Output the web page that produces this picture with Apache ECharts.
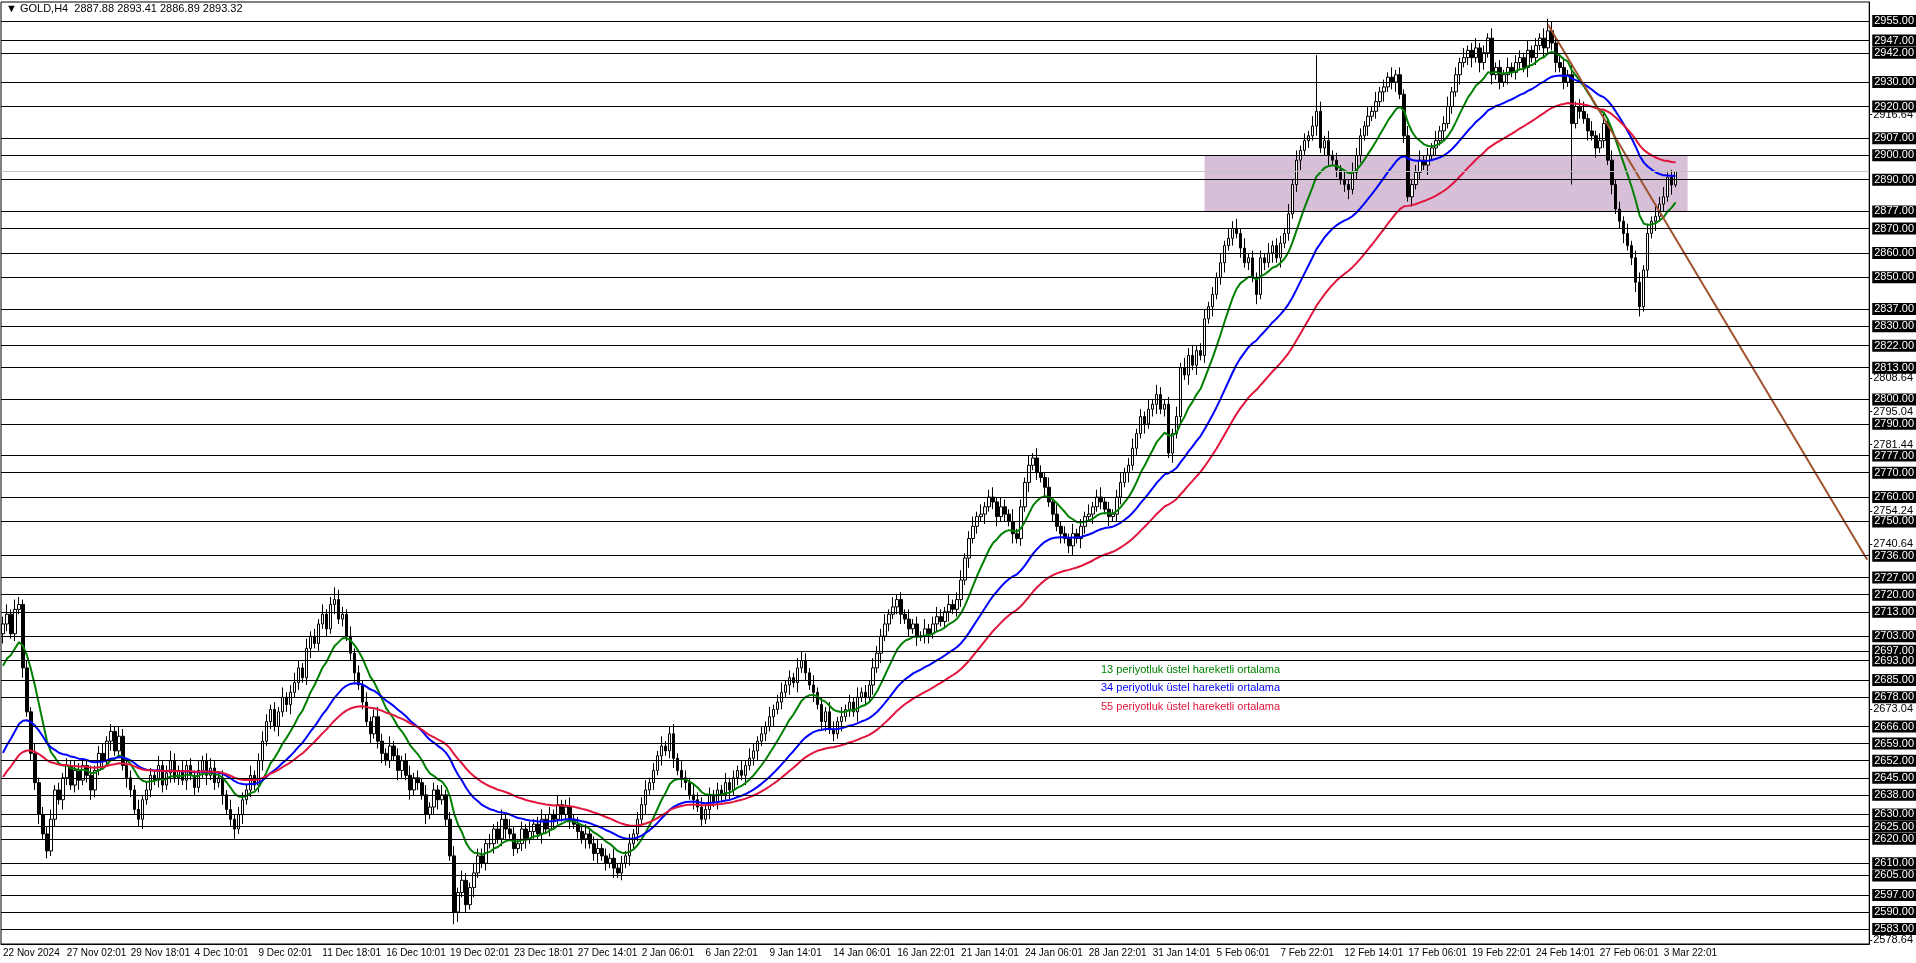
<!DOCTYPE html>
<html><head><meta charset="utf-8">
<script src="https://cdn.jsdelivr.net/npm/echarts@6/dist/echarts.min.js"></script>
<style>html,body{margin:0;padding:0;background:#fff}#c{width:1916px;height:963px}</style>
</head><body><div id="c"></div>
<script>
const closes = [
2708,2712,2704,2714,2716,2690,2672,2655,2643,2630,2622,2615,2628,2640,2636,2645,2650,2642,2648,2644,
2650,2646,2640,2648,2655,2652,2660,2664,2656,2662,2650,2645,2640,2632,2628,2636,2640,2646,2644,2650,
2642,2647,2652,2645,2648,2644,2650,2646,2641,2648,2652,2646,2649,2643,2645,2638,2632,2628,2624,2630,
2636,2640,2646,2642,2652,2660,2668,2673,2666,2672,2678,2675,2680,2684,2690,2686,2698,2703,2700,2708,
2712,2706,2716,2718,2710,2712,2703,2696,2688,2683,2676,2668,2663,2670,2660,2655,2652,2658,2654,2648,
2652,2646,2640,2645,2643,2638,2630,2633,2640,2636,2638,2628,2613,2590,2598,2603,2593,2600,2606,2613,
2610,2618,2618,2624,2620,2628,2624,2622,2616,2618,2624,2620,2623,2626,2622,2628,2624,2630,2628,2634,
2630,2633,2628,2626,2623,2620,2622,2618,2614,2616,2613,2610,2612,2608,2606,2610,2613,2618,2622,2628,
2634,2640,2643,2648,2654,2658,2656,2663,2653,2648,2645,2643,2638,2636,2633,2628,2632,2638,2635,2640,
2638,2643,2640,2645,2648,2646,2650,2653,2656,2660,2663,2666,2670,2673,2676,2680,2683,2686,2684,2690,
2693,2688,2683,2680,2675,2668,2672,2665,2663,2668,2670,2673,2676,2672,2678,2680,2678,2683,2690,2696,
2703,2708,2712,2715,2718,2712,2710,2706,2708,2703,2703,2706,2704,2708,2711,2709,2713,2716,2714,2718,
2726,2735,2743,2748,2752,2753,2756,2760,2758,2752,2756,2753,2750,2745,2743,2756,2766,2773,2776,2770,
2768,2764,2758,2753,2748,2745,2743,2740,2745,2743,2748,2752,2753,2756,2760,2758,2755,2752,2753,2760,
2766,2770,2773,2780,2786,2793,2790,2796,2798,2802,2796,2798,2778,2786,2793,2813,2810,2818,2814,2820,
2818,2833,2838,2843,2850,2856,2863,2866,2870,2868,2862,2856,2858,2850,2843,2858,2856,2860,2863,2858,
2864,2868,2876,2888,2898,2902,2906,2908,2912,2918,2903,2906,2900,2898,2894,2890,2888,2886,2893,2900,
2908,2912,2916,2918,2922,2926,2928,2932,2930,2933,2925,2908,2883,2888,2893,2898,2896,2900,2903,2906,
2910,2913,2920,2926,2933,2938,2940,2943,2940,2944,2938,2942,2948,2933,2936,2930,2933,2936,2934,2938,
2940,2936,2943,2940,2945,2948,2944,2951,2946,2938,2936,2930,2933,2913,2920,2918,2915,2910,2908,2903,
2906,2913,2898,2888,2878,2873,2868,2863,2858,2848,2838,2853,2868,2873,2875,2880,2883,2891,2887.88,2893.32];
const firstOpen = 2704;
const upperWicks = ["34243232423342323243","32423423243232423324","23432423242343232423","32423432324234324232",
"42354324232423432423","23423242324234243243","32423424323242342324","23423242342324232423","34232423424324342323",
"24232424323242342324","43242324324232423243","34242324232423432423","42342423424325232424","32424232423242342323",
"42342324243232424342","34232424342423232423","324242324n4242324243","32424232423242342324","23423242342324232423",
"32423245423424234242","34242324234242434230"];
const lowerWicks = ["43232423342323243234","23432324232432342323","32423242323423242342","42323423242342323423",
"23242323423242342324","32423242342325423242","23242342323423242342","32423242342324232423","24232423424324232423",
"32423242342324232424","23242342324232423242","42323423242342323423","32423242342324232423","24232423424324232423",
"32423242342324232424","23242342324232423242","42323423242342323423","32423242342324232423","24232423424324232423",
"3242324234232p232424","23242342344232423241"];
const dateLabels = ["22 Nov 2024","27 Nov 02:01","29 Nov 18:01","4 Dec 10:01","9 Dec 02:01","11 Dec 18:01","16 Dec 10:01",
"19 Dec 02:01","23 Dec 18:01","27 Dec 14:01","2 Jan 06:01","6 Jan 22:01","9 Jan 14:01","14 Jan 06:01","16 Jan 22:01",
"21 Jan 14:01","24 Jan 06:01","28 Jan 22:01","31 Jan 14:01","5 Feb 06:01","7 Feb 22:01","12 Feb 14:01","17 Feb 06:01",
"19 Feb 22:01","24 Feb 14:01","27 Feb 06:01","3 Mar 22:01"];
const levels = [2955,2947,2942,2930,2920,2907,2900,2890,2877,2870,2860,2850,2837,2830,2822,2813,2800,2790,2777,2770,
2760,2750,2736,2727,2720,2713,2703,2697,2693,2685,2678,2666,2659,2652,2645,2638,2630,2625,2620,2610,2605,2597,2590,2583];
const axisTicks = [2578.64,2673.04,2740.64,2754.24,2781.44,2795.04,2808.64,2916.64];
const currentPrice = 2893.32;
const zone = [2877, 2900];
const zoneBars = [301, 422];
const trend = [[387, 2953.6], [467, 2734.3]];
const emaPeriods = [13, 34, 55];
const emaSeeds = [2688, 2652, 2643];
const emaNames = ["13 periyotluk üstel hareketli ortalama","34 periyotluk üstel hareketli ortalama","55 periyotluk üstel hareketli ortalama"];
const emaColors = ["#008000","#0000ff","#e0143c"];

const TOTAL = 468;
const up = upperWicks.join(''), dn = lowerWicks.join('');
const candles = closes.map((c,i)=>{
  const o = i===0 ? firstOpen : closes[i-1];
  const hi = Math.max(o,c) + parseInt(up[i],36);
  const lo = Math.min(o,c) - parseInt(dn[i],36);
  return [o,c,lo,hi];
});
const cats = Array.from({length:TOTAL},(_,i)=>String(i));
function ema(p,seed){const k=2/(p+1);let e=seed;return closes.map(c=>{e=c*k+e*(1-k);return +e.toFixed(2);});}

const font = "Liberation Sans";
const series = [{
  type:'candlestick', data:candles, barWidth:3,
  itemStyle:{color:'#ffffff',color0:'#000000',borderColor:'#000000',borderColor0:'#000000',borderWidth:1},
  markArea:{silent:true,itemStyle:{color:'#d8bfd8'},data:[[{xAxis:zoneBars[0],yAxis:zone[0]},{xAxis:zoneBars[1],yAxis:zone[1]}]]},
  markLine:{silent:true,symbol:'none',animation:false,
    data:[{yAxis:currentPrice,lineStyle:{color:'#c0c0c0',width:1,type:'solid'},label:{show:false}}].concat(
      levels.map(v=>({yAxis:v,lineStyle:{color:'#000',width:1.2,type:'solid'},
        label:{show:true,position:'end',distance:3,formatter:v.toFixed(2),color:'#fff',backgroundColor:'#000',
          padding:[1,2,0,2],fontFamily:font,fontSize:11}}))) }
}];
emaPeriods.forEach((p,j)=>series.push({type:'line',data:ema(p,emaSeeds[j]),showSymbol:false,smooth:false,
  lineStyle:{color:emaColors[j],width:2},z:3,animation:false}));
series.push({type:'line',data:trend,showSymbol:false,lineStyle:{color:'#a0522d',width:2},z:4,animation:false});

const chart = echarts.init(document.getElementById('c'));
chart.setOption({
  animation:false, backgroundColor:'#fff',
  grid:{left:0,right:44,top:2,bottom:19,show:true,borderColor:'#000',borderWidth:1},
  xAxis:{type:'category',data:cats,boundaryGap:true,
    axisLine:{lineStyle:{color:'#000'}},
    axisTick:{interval:(i)=>i%16===0,length:4,lineStyle:{color:'#000'}},
    axisLabel:{interval:(i)=>i%16===0&&i/16<dateLabels.length,formatter:(v,i)=>dateLabels[i/16]||'',
      hideOverlap:false,align:'left',margin:4,color:'#000',fontFamily:font,fontSize:10},
    splitLine:{show:false}},
  yAxis:{type:'value',position:'right',min:2576.9,max:2962.8,scale:true,
    axisLine:{show:true,lineStyle:{color:'#000'}},
    axisTick:{show:true,customValues:axisTicks,length:3,inside:false,lineStyle:{color:'#000'}},
    axisLabel:{customValues:axisTicks,formatter:v=>v.toFixed(2),color:'#000',fontFamily:font,fontSize:11,margin:4},
    splitLine:{show:false}},
  graphic:[
    {type:'text',left:6,top:3,style:{text:'▼ GOLD,H4  2887.88 2893.41 2886.89 2893.32',fill:'#000',font:'11px '+font}},
    ...emaNames.map((t,j)=>({type:'text',left:1101,top:[664,682,701][j],style:{text:t,fill:emaColors[j],font:'11px '+font}}))
  ],
  series
});
</script></body></html>
